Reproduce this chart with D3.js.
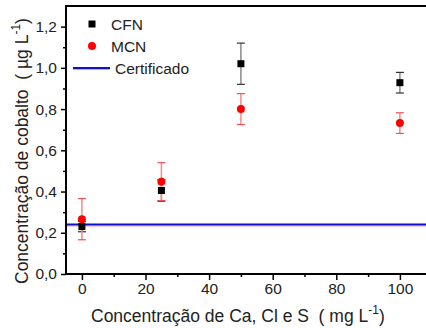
<!DOCTYPE html>
<html>
<head>
<meta charset="utf-8">
<script src="https://cdn.jsdelivr.net/npm/d3@7"></script>
<style>
  html, body { margin: 0; padding: 0; background: #fff; }
  svg { display: block; font-family: "Liberation Sans", Arial, sans-serif; }
  .title { white-space: pre; }
</style>
</head>
<body>
<svg id="chart" width="426" height="328"></svg>
<script>
// Added concentration of Ca, Cl and S (mg L-1)
const concentrations = [0, 25, 50, 100];
// Cobalt found (µg L-1) with standard deviations
const cfnValues = [0.230, 0.405, 1.020, 0.928];
const cfnErrors = [0.025, 0.052, 0.100, 0.050];
const mcnValues = [0.266, 0.448, 0.800, 0.732];
const mcnErrors = [0.100, 0.092, 0.075, 0.050];
const certifiedValue = 0.240;

const xTicks = [0, 20, 40, 60, 80, 100];
const yTicks = [0.0, 0.2, 0.4, 0.6, 0.8, 1.0, 1.2];
const seriesNames = ["CFN", "MCN", "Certificado"];

const svg = d3.select("#chart");
const plotLeft = 66, plotTop = 6, plotBottom = 274;

const x = d3.scaleLinear().domain([-5, 110]).range([plotLeft, plotLeft + 115 * 3.18]);
const y = d3.scaleLinear().domain([0, 1.3]).range([plotBottom, plotTop]);

const fmt = d => d.toFixed(1).replace(".", ",");

// Axes: major ticks with labels, minor ticks between them
const xAxis = d3.axisBottom(x).tickValues(xTicks).tickSize(6).tickPadding(3).tickFormat(d3.format("d"));
const xMinor = d3.axisBottom(x).tickValues(d3.range(10, 110, 20)).tickSize(3).tickFormat("");
const yAxis = d3.axisLeft(y).tickValues(yTicks).tickSize(5).tickPadding(4).tickFormat(fmt);
const yMinor = d3.axisLeft(y).tickValues(d3.range(0.1, 1.3, 0.2)).tickSize(3).tickFormat("");

function styleAxis(g) {
  g.select(".domain").remove();
  g.selectAll(".tick line").attr("stroke", "#000").attr("stroke-width", 1.5);
  g.selectAll(".tick text").attr("fill", "#222").style("font-size", "15.5px");
}

svg.append("g").attr("transform", `translate(0,${plotBottom})`).call(xAxis).call(styleAxis);
svg.append("g").attr("transform", `translate(0,${plotBottom})`).call(xMinor).call(styleAxis);
svg.append("g").attr("transform", `translate(${plotLeft},0)`).call(yAxis).call(styleAxis);
svg.append("g").attr("transform", `translate(${plotLeft},0)`).call(yMinor).call(styleAxis);

// Frame lines: left, bottom and top
svg.append("line").attr("x1", plotLeft).attr("x2", plotLeft).attr("y1", plotTop).attr("y2", plotBottom + 1)
  .attr("stroke", "#000").attr("stroke-width", 2);
svg.append("line").attr("x1", plotLeft - 1).attr("x2", 426).attr("y1", plotBottom).attr("y2", plotBottom)
  .attr("stroke", "#000").attr("stroke-width", 2);
svg.append("line").attr("x1", plotLeft - 1).attr("x2", 426).attr("y1", plotTop).attr("y2", plotTop)
  .attr("stroke", "#000").attr("stroke-width", 2);

// Certified reference value
svg.append("line").attr("x1", plotLeft + 1).attr("x2", 426)
  .attr("y1", y(certifiedValue) + 1.5).attr("y2", y(certifiedValue) + 1.5)
  .attr("stroke", "#f39aa8").attr("stroke-width", 1);
svg.append("line").attr("x1", plotLeft + 1).attr("x2", 426)
  .attr("y1", y(certifiedValue)).attr("y2", y(certifiedValue))
  .attr("stroke", "#1010c8").attr("stroke-width", 2);

function errorBars(values, errors, barColor, capColor) {
  const g = svg.append("g");
  concentrations.forEach((c, i) => {
    const cx = x(c), y1 = y(values[i] + errors[i]), y2 = y(values[i] - errors[i]);
    g.append("line").attr("x1", cx).attr("x2", cx).attr("y1", y1).attr("y2", y2)
      .attr("stroke", barColor).attr("stroke-width", 1.5);
    [y1, y2].forEach(yy => g.append("line").attr("x1", cx - 4).attr("x2", cx + 4)
      .attr("y1", yy).attr("y2", yy).attr("stroke", capColor).attr("stroke-width", 1.2));
  });
}

errorBars(cfnValues, cfnErrors, "#8a8a8a", "#333");
errorBars(mcnValues, mcnErrors, "#f78a8a", "#f05050");

// CFN squares
svg.append("g").selectAll("rect").data(concentrations).join("rect")
  .attr("x", d => x(d) - 3.5).attr("y", (d, i) => y(cfnValues[i]) - 3.5)
  .attr("width", 7).attr("height", 7).attr("fill", "#000");

// MCN circles
svg.append("g").selectAll("circle").data(concentrations).join("circle")
  .attr("cx", d => x(d)).attr("cy", (d, i) => y(mcnValues[i])).attr("r", 4)
  .attr("fill", "#f00");

// Legend
const lg = svg.append("g").style("font-size", "15.5px").attr("fill", "#222");
lg.append("rect").attr("x", 88.5).attr("y", 20.5).attr("width", 7).attr("height", 7).attr("fill", "#000");
lg.append("text").attr("x", 111).attr("y", 29.5).text(seriesNames[0]);
lg.append("circle").attr("cx", 92).attr("cy", 46).attr("r", 4).attr("fill", "#f00");
lg.append("text").attr("x", 111).attr("y", 51.5).text(seriesNames[1]);
lg.append("line").attr("x1", 73).attr("x2", 110).attr("y1", 69.5).attr("y2", 69.5).attr("stroke", "#f39aa8").attr("stroke-width", 1);
lg.append("line").attr("x1", 73).attr("x2", 110).attr("y1", 68).attr("y2", 68).attr("stroke", "#1010c8").attr("stroke-width", 2);
lg.append("text").attr("x", 115).attr("y", 73.5).text(seriesNames[2]);

// Axis titles
const xt = svg.append("text").attr("class", "title").attr("x", 91).attr("y", 322)
  .style("font-size", "17.5px").attr("fill", "#222");
xt.append("tspan").text("Concentração de Ca, Cl e S  ( mg L");
xt.append("tspan").attr("dy", -8).style("font-size", "12px").text("-1");
xt.append("tspan").attr("dy", 8).text(")");

const yt = svg.append("text").attr("class", "title").attr("transform", "translate(28,284) rotate(-90)")
  .style("font-size", "17.5px").attr("fill", "#222");
yt.append("tspan").text("Concentração de cobalto  ( µg L");
yt.append("tspan").attr("dy", -8).style("font-size", "12px").text("-1");
yt.append("tspan").attr("dy", 8).text(")");
</script>
</body>
</html>
